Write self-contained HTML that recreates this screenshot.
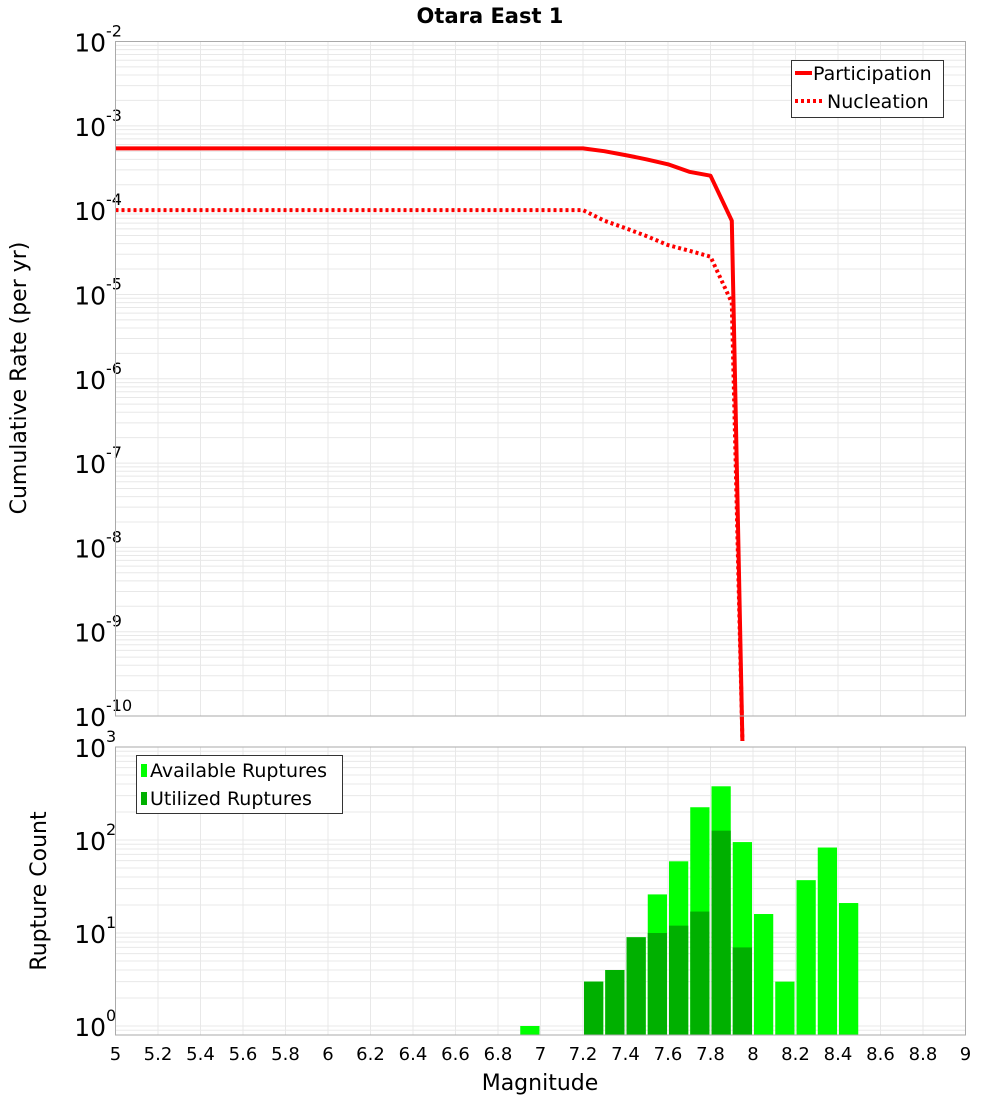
<!DOCTYPE html>
<html><head><meta charset="utf-8"><style>
html,body{margin:0;padding:0;background:#fff;}
svg{display:block;font-family:"DejaVu Sans","Liberation Sans",sans-serif;}
</style></head><body>
<svg id="chart" width="1000" height="1100" xmlns="http://www.w3.org/2000/svg">
<text x="490" y="23" text-anchor="middle" font-size="21" font-weight="bold">Otara East 1</text>
<text transform="translate(26,378) rotate(-90)" text-anchor="middle" font-size="22">Cumulative Rate (per yr)</text>
<text transform="translate(46,891) rotate(-90)" text-anchor="middle" font-size="22">Rupture Count</text>
<text x="540" y="1090" text-anchor="middle" font-size="22">Magnitude</text>
<g id="topg"></g>
<g id="botg"></g>
</svg>
<script>
const magsPart = [5,7.2,7.3,7.4,7.5,7.6,7.7,7.8,7.9,7.95];
const ratePart = [5.4e-4,5.4e-4,5.0e-4,4.5e-4,4.0e-4,3.5e-4,2.85e-4,2.56e-4,7.5e-5,1e-11];
const magsNucl = [5,7.2,7.3,7.4,7.5,7.6,7.7,7.8,7.9,7.95];
const rateNucl = [1e-4,1e-4,7.5e-5,6.1e-5,4.9e-5,3.85e-5,3.3e-5,2.8e-5,8e-6,1e-11];
const binMags = [6.95,7.25,7.35,7.45,7.55,7.65,7.75,7.85,7.95,8.05,8.15,8.25,8.35,8.45];
const availCounts = [1,3,4,9,26,59,225,378,95,16,3,37,83,21];
const usedCounts = [0,3,4,9,10,12,17,126,7,0,0,0,0,0];
const xTicks = ["5","5.2","5.4","5.6","5.8","6","6.2","6.4","6.6","6.8","7","7.2","7.4","7.6","7.8","8","8.2","8.4","8.6","8.8","9"];

const NS="http://www.w3.org/2000/svg";
function mk(parent,tag,attrs){const e=document.createElementNS(NS,tag);for(const k in attrs)e.setAttribute(k,attrs[k]);parent.appendChild(e);return e;}
const X0=115.5,X1=965.5;
const xs=m=>X0+(m-5)/4*(X1-X0);
const T0=41.5,T1=716;
const yTop=v=>{const l=Math.log10(v);return T0+(-2-l)*(T1-T0)/8;};
const B0=747,Bz=1026,B1=1035;
const yBot=v=>Bz-Math.log10(v)*(Bz-B0)/3;
const topG=document.getElementById('topg'), botG=document.getElementById('botg');

function grid(g,ya,yb,yf,dmin,dmax){
  for(let d=dmin;d<=dmax;d++){for(let k=1;k<10;k++){const v=k*Math.pow(10,d);const yy=yf(v);if(yy<ya-0.1||yy>yb+0.1)continue;
    const l=mk(g,'line',{x1:X0,x2:X1,y1:yy,y2:yy,stroke:'#e8e8e8','stroke-width':1});
    
    }}
  for(let i=0;i<xTicks.length;i++){const xx=xs(+xTicks[i]);
    const l=mk(g,'line',{x1:xx,x2:xx,y1:ya,y2:yb,stroke:'#e8e8e8','stroke-width':1});
    
    }
}
grid(topG,T0,T1,yTop,-10,-3);
grid(botG,B0,B1,yBot,-1,2);

function ylab(g,yy,exp){
  const t=mk(g,'text',{x:106,y:yy+10,'text-anchor':'end','font-size':25});
  
  
  t.textContent='10';
  const s=mk(g,'text',{x:106,y:yy-5,'font-size':16});
  
  
  s.textContent=exp;
}
for(let d=-2;d>=-10;d--)ylab(topG,yTop(Math.pow(10,d)),String(d));
for(let d=0;d<=3;d++)ylab(botG,yBot(Math.pow(10,d)),String(d));

function line(ms,vs,dash,name){
  const pts=ms.map((m,i)=>{let yy=yTop(vs[i]);if(yy>T1+25)yy=T1+25;return xs(m).toFixed(1)+','+yy.toFixed(1);}).join(' ');
  const a={points:pts,fill:'none',stroke:'#ff0000','stroke-width':4,'stroke-linejoin':'round'};
  if(dash)a['stroke-dasharray']='3,3';
  const p=mk(topG,'polyline',a);
  
  
}
line(magsPart,ratePart,false,'participation-line');
line(magsNucl,rateNucl,true,'nucleation-line');

const bw=xs(5.1)-xs(5);
for(let i=0;i<binMags.length;i++){
  if(availCounts[i]>0){const yy=yBot(availCounts[i]);
    const r=mk(botG,'rect',{x:xs(binMags[i])-bw/2+1,y:yy,width:bw-2,height:B1-yy,fill:'#00ff00'});
    
    }
  if(usedCounts[i]>0){const yy=yBot(usedCounts[i]);
    const r=mk(botG,'rect',{x:xs(binMags[i])-bw/2+1,y:yy,width:bw-2,height:B1-yy,fill:'#00b000'});
    
    }
}

const f1=mk(topG,'rect',{x:X0,y:T0,width:X1-X0,height:T1-T0,fill:'none',stroke:'#aaa'});


const f2=mk(botG,'rect',{x:X0,y:B0,width:X1-X0,height:B1-B0,fill:'none',stroke:'#aaa'});



for(let i=0;i<xTicks.length;i++){
  const t=mk(botG,'text',{x:xs(+xTicks[i]),y:1060,'text-anchor':'middle','font-size':18});
  
  
  t.textContent=xTicks[i];
}

const lg=mk(topG,'g',{});


mk(lg,'rect',{x:791.5,y:60.5,width:152,height:57,fill:'#fff',stroke:'#333'});
mk(lg,'line',{x1:795,x2:812,y1:73,y2:73,stroke:'#f00','stroke-width':4});
mk(lg,'line',{x1:795,x2:822,y1:101,y2:101,stroke:'#f00','stroke-width':4,'stroke-dasharray':'3,3'});
const lt1=mk(lg,'text',{x:813,y:80,'font-size':19});lt1.textContent='Participation';


const lt2=mk(lg,'text',{x:827,y:108,'font-size':19});lt2.textContent='Nucleation';



const lb=mk(botG,'g',{});


mk(lb,'rect',{x:136.5,y:755.5,width:206,height:58,fill:'#fff',stroke:'#333'});
mk(lb,'rect',{x:141,y:764,width:6,height:13,fill:'#00ff00'});
mk(lb,'rect',{x:141,y:792,width:6,height:13,fill:'#00b000'});
const b1=mk(lb,'text',{x:150,y:777,'font-size':19});b1.textContent='Available Ruptures';


const b2=mk(lb,'text',{x:150,y:805,'font-size':19});b2.textContent='Utilized Ruptures';


</script>
</body></html>
